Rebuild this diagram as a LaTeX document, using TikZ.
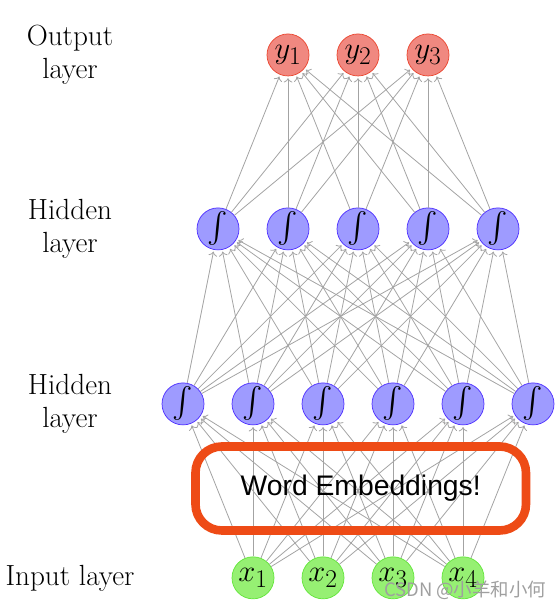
\documentclass[tikz,border=0pt]{standalone}
\usepackage{fontspec}
\usepackage{amsmath}
\usetikzlibrary{arrows.meta}
\newfontfamily\embfont{Liberation Sans}
\newfontfamily\cjkfont{Noto Sans CJK SC}
\definecolor{outfill}{RGB}{240,136,128}
\definecolor{outdraw}{RGB}{235,72,50}
\definecolor{hidfill}{RGB}{158,155,255}
\definecolor{hiddraw}{RGB}{80,50,255}
\definecolor{infill}{RGB}{150,240,115}
\definecolor{indraw}{RGB}{100,230,60}
\definecolor{embcol}{RGB}{238,75,22}
\tikzset{
  neuron/.style={circle, minimum size=1.2cm, inner sep=0pt, line width=0.6pt, font=\Huge},
  output neuron/.style={neuron, fill=outfill, draw=outdraw},
  hidden neuron/.style={neuron, fill=hidfill, draw=hiddraw},
  input neuron/.style={neuron, fill=infill, draw=indraw},
  layer label/.style={align=center, font=\fontsize{23.7}{26.5}\selectfont},
  link/.style={draw=black!36, line width=0.65pt, ->, >={To[length=3.5pt,width=7pt]}, shorten >=1.5pt}
}

\begin{document}
\begin{tikzpicture}
\useasboundingbox (0,0) rectangle (16,-17.486);
% neurons
\foreach \i in {1,...,3}
  \node[output neuron] (O-\i) at ({10.229+2*(\i-2)},-1.57) {$y_\i$};
\foreach \i in {1,...,5}
  \node[hidden neuron] (H2-\i) at ({10.229+2*(\i-3)},-6.54) {$\int$};
\foreach \i in {1,...,6}
  \node[hidden neuron] (H1-\i) at ({10.229+2*(\i-3.5)},-11.54) {$\int$};
\foreach \i in {1,...,4}
  \node[input neuron] (I-\i) at ({10.229+2*(\i-2.5)},-16.51) {$x_\i$};
% connections
\foreach \s in {1,...,4}
  \foreach \t in {1,...,6}
    \draw[link] (I-\s) -- (H1-\t);
\foreach \s in {1,...,6}
  \foreach \t in {1,...,5}
    \draw[link] (H1-\s) -- (H2-\t);
\foreach \s in {1,...,5}
  \foreach \t in {1,...,3}
    \draw[link] (H2-\s) -- (O-\t);
% layer names
\node[layer label] (L-out) at (2,-1.57) {Output\\layer};
\node[layer label] (L-h2) at (2,-6.54) {Hidden\\layer};
\node[layer label] (L-h1) at (2,-11.54) {Hidden\\layer};
\node[layer label] (L-in) at (2,-16.51) {Input layer};
% embeddings box
\node[draw=embcol, line width=7pt, rounded corners=0.75cm, minimum width=9.443cm,
  minimum height=2.4cm, font=\embfont\fontsize{23}{28}\selectfont] (emb) at (10.307,-13.957)
  {Word Embeddings!};
\node[text=gray!75, font=\cjkfont\fontsize{15}{18}\selectfont] (wm) at (13.29,-16.86)
  {CSDN @小羊和小何};
\end{tikzpicture}
\end{document}
